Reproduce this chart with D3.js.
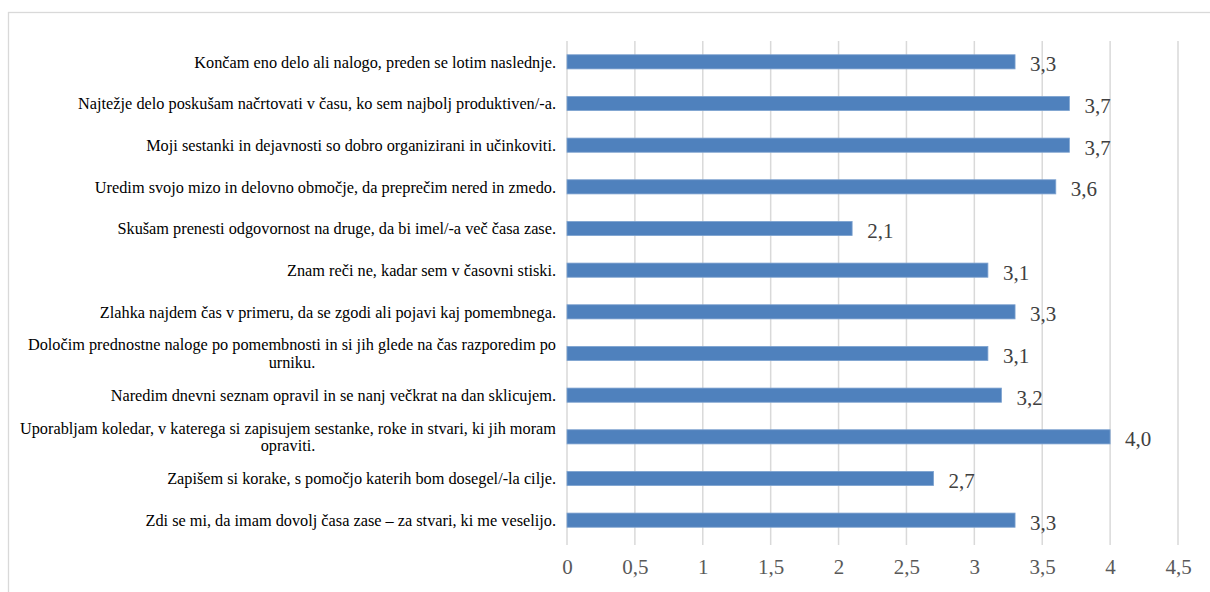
<!DOCTYPE html>
<html>
<head>
<meta charset="utf-8">
<script src="https://cdn.jsdelivr.net/npm/d3@7"></script>
<style>
  html, body { margin: 0; padding: 0; background: #fff; }
  svg { display: block; }
</style>
</head>
<body>
<svg id="chart" width="1210" height="592"></svg>
<script>
// Statements, listed top to bottom
const categories = [
  "Končam eno delo ali nalogo, preden se lotim naslednje.",
  "Najtežje delo poskušam načrtovati v času, ko sem najbolj produktiven/-a.",
  "Moji sestanki in dejavnosti so dobro organizirani in učinkoviti.",
  "Uredim svojo mizo in delovno območje, da preprečim nered in zmedo.",
  "Skušam prenesti odgovornost na druge, da bi imel/-a več časa zase.",
  "Znam reči ne, kadar sem v časovni stiski.",
  "Zlahka najdem čas v primeru, da se zgodi ali pojavi kaj pomembnega.",
  "Določim prednostne naloge po pomembnosti in si jih glede na čas razporedim po urniku.",
  "Naredim dnevni seznam opravil in se nanj večkrat na dan sklicujem.",
  "Uporabljam koledar, v katerega si zapisujem sestanke, roke in stvari, ki jih moram opraviti.",
  "Zapišem si korake, s pomočjo katerih bom dosegel/-la cilje.",
  "Zdi se mi, da imam dovolj časa zase – za stvari, ki me veselijo."
];

// Mean score per statement
const values = [3.3, 3.7, 3.7, 3.6, 2.1, 3.1, 3.3, 3.1, 3.2, 4.0, 2.7, 3.3];

// Axis ticks
const tickValues = [0, 0.5, 1, 1.5, 2, 2.5, 3, 3.5, 4, 4.5];

const SERIF = "Liberation Serif";

const locale = d3.formatLocale({ decimal: ",", thousands: ".", grouping: [3], currency: ["", " €"] });
const fmtValue = locale.format(".1f");
const fmtTick = locale.format("~g");

const svg = d3.select("#chart");
const W = 1210, H = 592;

const plot = { left: 567, right: 1178, top: 41, bottom: 541 };

// Outer chart frame
svg.append("rect")
  .attr("x", 8.5).attr("y", 12.5)
  .attr("width", W + 10).attr("height", H + 10)
  .attr("fill", "#fff").attr("stroke", "#d9d9d9").attr("stroke-width", 1.3);

const x = d3.scaleLinear().domain([0, 4.5]).range([plot.left, plot.right]);
const y = d3.scaleBand().domain(categories).range([plot.top, plot.bottom]).paddingInner(0.66).paddingOuter(0.33);

// Vertical gridlines
svg.append("g")
  .selectAll("line")
  .data(tickValues)
  .join("line")
  .attr("x1", d => x(d)).attr("x2", d => x(d))
  .attr("y1", plot.top).attr("y2", plot.bottom + 4)
  .attr("stroke", "#d9d9d9").attr("stroke-width", 1.5);

// Tick labels
const xAxis = d3.axisBottom(x).tickValues(tickValues).tickFormat(fmtTick).tickSize(0).tickPadding(0);
const gx = svg.append("g").attr("transform", `translate(0,${plot.bottom + 18})`).call(xAxis);
gx.select(".domain").remove();
gx.attr("font-family", SERIF).attr("font-size", 21);
gx.selectAll("text")
  .attr("dy", "0.71em")
  .attr("fill", "#595959");

// Bars
svg.append("g")
  .selectAll("rect")
  .data(values)
  .join("rect")
  .attr("x", x(0))
  .attr("y", (d, i) => y(categories[i]))
  .attr("width", d => x(d) - x(0))
  .attr("height", y.bandwidth())
  .attr("fill", "#4f81bd")
  .attr("stroke", "#7ea3d0")
  .attr("stroke-width", 0.8);

// Value labels
svg.append("g")
  .attr("font-family", SERIF)
  .attr("font-size", 21)
  .selectAll("text")
  .data(values)
  .join("text")
  .attr("x", d => x(d) + 15)
  .attr("y", (d, i) => y(categories[i]) + y.bandwidth() / 2 + 2)
  .attr("dy", "0.35em")
  .attr("fill", "#404040")
  .text(d => fmtValue(d));

// Category labels, wrapped when too long
const labelRight = 556;
const wrapWidth = 545;
const lineH = 17.5;
const gl = svg.append("g").attr("font-family", SERIF).attr("font-size", 16.3);
categories.forEach((c, i) => {
  const cy = y(c) + y.bandwidth() / 2;
  const t = gl.append("text").attr("fill", "#000");
  const words = c.split(" ");
  const lines = [];
  let cur = [];
  const probe = t.append("tspan");
  words.forEach(w => {
    probe.text(cur.concat(w).join(" "));
    if (probe.node().getComputedTextLength() > wrapWidth && cur.length) {
      lines.push(cur.join(" "));
      cur = [w];
    } else {
      cur.push(w);
    }
  });
  lines.push(cur.join(" "));
  probe.text(lines[0]);
  const wmax = probe.node().getComputedTextLength();
  probe.remove();
  if (lines.length === 1) {
    t.attr("text-anchor", "end")
      .attr("x", labelRight).attr("y", cy).attr("dy", "0.35em").text(lines[0]);
  } else {
    // lines are centred inside the block, block is right-aligned
    const cx = labelRight - wmax / 2;
    t.attr("text-anchor", "middle");
    lines.forEach((l, k) => {
      t.append("tspan")
        .attr("x", cx)
        .attr("y", cy + (k - (lines.length - 1) / 2) * lineH)
        .attr("dy", "0.35em")
        .text(l);
    });
  }
});
</script>
</body>
</html>
